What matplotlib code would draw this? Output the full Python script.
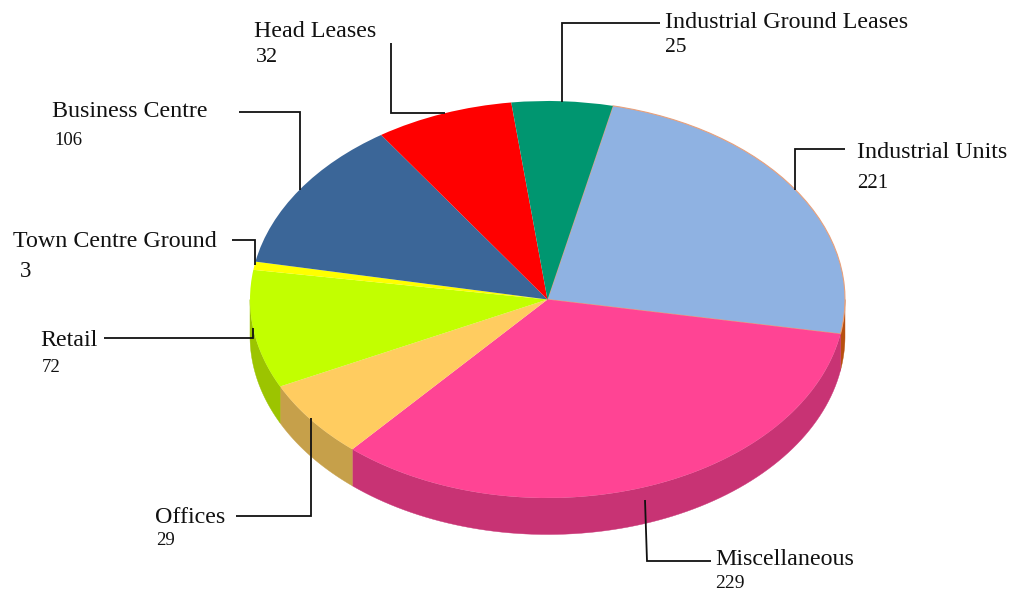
import numpy as np
import matplotlib
matplotlib.use("Agg")
import matplotlib.pyplot as plt

# Slice order runs clockwise from the top right boundary
categories = ["Industrial Units", "Miscellaneous", "Offices", "Retail",
              "Town Centre Ground", "Business Centre", "Head Leases",
              "Industrial Ground Leases"]
label_values = ["221", "229", "29", "72", "3", "106", "32", "25"]
# Slice sizes as drawn in the picture (degrees of sweep)
slice_sizes = [87.3, 121, 23, 34.6, 2.4, 45, 27, 19.7]
top_colors = ["#8FB2E2", "#FF4494", "#FFCC60", "#C2FF00", "#FFFF00",
              "#3B6698", "#FF0000", "#009670"]
rim_colors = ["#B8500F", "#C83374", "#C6A04A", "#9CC400", "#C8C800",
              "#2E5078", "#C00000", "#007858"]
START_ANGLE = 77.3

name_pos = [(857, 158), (715, 565), (155, 523), (40, 346), (13, 247), (52, 117), (254, 37), (665, 28)]
value_pos = [(857, 188), (715, 588), (156, 545), (42, 372), (20, 277), (54, 145), (256, 62), (665, 52)]
value_size = [15, 14, 13.5, 13.5, 16.5, 13.5, 16, 15.5]
leaders = [
    [(845, 149), (795, 149), (795, 190)],
    [(711, 561), (647, 561), (645, 500)],
    [(236, 516), (311, 516), (311, 418)],
    [(104, 338), (253, 338), (253, 328)],
    [(232, 240), (255, 240), (255, 265)],
    [(239, 112), (300, 112), (300, 190)],
    [(391, 43), (391, 113), (445, 113)],
    [(660, 23), (562, 23), (562, 102)],
]

W, H = 1010, 593
CX, CY, RX, RY, DEPTH = 547.5, 299.5, 297.5, 198.5, 36.5

plt.rcParams["font.family"] = ["Liberation Serif", "DejaVu Serif"]
fig = plt.figure(figsize=(W / 100, H / 100), dpi=100, facecolor="white")

ax = fig.add_axes([0, 0, 1, 1])
wedges, _ = ax.pie(slice_sizes, colors=top_colors, startangle=START_ANGLE,
                   counterclock=False, radius=1,
                   wedgeprops={"linewidth": 0})
ax.set_aspect("auto")
ax.set_xlim(-CX / RX, (W - CX) / RX)
ax.set_ylim((CY - H) / RY, CY / RY)
for w in wedges:
    w.set_zorder(3)
wedges[0].set_edgecolor("#E9A07A")
wedges[0].set_linewidth(0.8)
wedges[0].set_zorder(2.5)

# Rim: the visible lower half of each slice, dropped by the pie depth
ends = START_ANGLE - np.cumsum(slice_sizes)
starts = ends + np.array(slice_sizes)
d = DEPTH / RY
for a0, a1, c in zip(starts, ends, rim_colors):
    lo, hi = a1, a0
    # visible where sin < 0: angles in [-180, 0] modulo 360
    for shift in (0, 360):
        l = max(lo + shift, -180)
        h = min(hi + shift, 0)
        if h > l:
            t = np.radians(np.linspace(l, h, 80))
            xs = np.concatenate([np.cos(t), np.cos(t[::-1])])
            ys = np.concatenate([np.sin(t), np.sin(t[::-1]) - d])
            ax.fill(xs, ys, color=c, lw=0.3, zorder=2)

# Overlay in pixel coordinates for labels and leader lines
ov = fig.add_axes([0, 0, 1, 1], facecolor="none")
ov.set_xlim(0, W)
ov.set_ylim(H, 0)
ov.axis("off")
for pts in leaders:
    xs, ys = zip(*pts)
    ov.plot(xs, ys, color="#111111", lw=1.3, solid_joinstyle="miter", solid_capstyle="butt")
for name, val, np_, vp, vs in zip(categories, label_values, name_pos, value_pos, value_size):
    ov.text(np_[0], np_[1], name, fontsize=17.3, va="baseline", ha="left", color="#111111")
    ov.text(vp[0], vp[1], val, fontsize=vs, va="baseline", ha="left", color="#111111")

fig.savefig("out.png", dpi=100, facecolor="white")
